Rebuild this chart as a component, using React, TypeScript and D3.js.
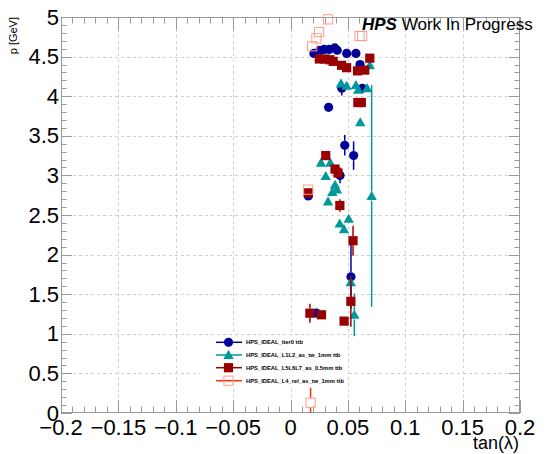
import React from "react";
import * as d3 from "d3";

const W = 556;
const H = 454;

const xTicks = [-0.2, -0.15, -0.1, -0.05, 0, 0.05, 0.1, 0.15, 0.2];
const xTickLabels = ["\u22120.2", "\u22120.15", "\u22120.1", "\u22120.05", "0", "0.05", "0.1", "0.15", "0.2"];
const yTicks = [0, 0.5, 1, 1.5, 2, 2.5, 3, 3.5, 4, 4.5, 5];
const yTickLabels = ["0", "0.5", "1", "1.5", "2", "2.5", "3", "3.5", "4", "4.5", "5"];

const seriesNames = [
  "HPS_IDEAL_iter0 ttb",
  "HPS_IDEAL_L1L2_as_tw_1mm ttb",
  "HPS_IDEAL_L5L6L7_as_0.5mm ttb",
  "HPS_IDEAL_L4_rel_as_tw_1mm ttb",
];

const iter0X = [0.0204, 0.0256, 0.0293, 0.0337, 0.0386, 0.0407, 0.049, 0.057, 0.0606, 0.0626, 0.0447, 0.0332, 0.0473, 0.055, 0.0432, 0.0155, 0.0527, 0.0227];
const iter0Y = [4.54, 4.58, 4.59, 4.59, 4.61, 4.58, 4.54, 4.54, 4.4, 4.1, 4.1, 3.86, 3.38, 3.25, 3.0, 2.74, 1.72, 1.26];
const iter0Err = [0.02, 0.02, 0.02, 0.02, 0.02, 0.02, 0.02, 0.02, 0.03, 0.03, 0.09, 0.03, 0.13, 0.18, 0.1, 0.03, 0.4, 0.05];

const l1l2X = [0.044, 0.0489, 0.057, 0.059, 0.0668, 0.0691, 0.0608, 0.0266, 0.0347, 0.0307, 0.0388, 0.0405, 0.0365, 0.0327, 0.0429, 0.0466, 0.0507, 0.0525, 0.0556, 0.0707];
const l1l2Y = [4.16, 4.13, 4.14, 4.08, 4.1, 4.39, 3.67, 3.16, 3.16, 2.99, 2.88, 2.82, 2.79, 2.67, 2.39, 2.32, 2.45, 1.65, 1.24, 2.74];
const l1l2Err = [0.03, 0.03, 0.03, 0.03, 0.03, 0.03, 0.03, 0.03, 0.03, 0.03, 0.03, 0.03, 0.03, 0.03, 0.05, 0.05, 0.05, 0.05, 0.27, 1.4];

const l5l6l7X = [0.0251, 0.03, 0.0343, 0.0372, 0.0445, 0.0489, 0.0584, 0.0647, 0.0691, 0.0587, 0.0617, 0.0307, 0.0388, 0.0414, 0.0155, 0.043, 0.0545, 0.0526, 0.0169, 0.027, 0.0467];
const l5l6l7Y = [4.47, 4.47, 4.46, 4.44, 4.39, 4.36, 4.32, 4.33, 4.48, 3.92, 3.92, 3.25, 3.08, 3.03, 2.78, 2.62, 2.175, 1.41, 1.26, 1.24, 1.16];
const l5l6l7Err = [0.03, 0.03, 0.03, 0.03, 0.03, 0.03, 0.03, 0.03, 0.03, 0.03, 0.03, 0.03, 0.03, 0.03, 0.03, 0.08, 0.19, 0.32, 0.12, 0.03, 0.03];

const l4relX = [0.0327, 0.0249, 0.0226, 0.0189, 0.0601, 0.0625, 0.0155, 0.0175];
const l4relY = [4.97, 4.81, 4.73, 4.63, 4.76, 4.76, 2.82, 0.13];
const l4relErr = [0.02, 0.02, 0.02, 0.02, 0.02, 0.02, 0.02, 0.19];

const L = 61, R = 520, T = 17, B = 413;
const x = d3.scaleLinear().domain([-0.2, 0.2]).range([L, R]);
const y = d3.scaleLinear().domain([0, 5]).range([B, T]);

const FONT = "'Liberation Sans', Arial, Helvetica, sans-serif";

type Shape = "circle" | "triangle" | "square" | "openSquare";
const styles: { shape: Shape; fill: string; line: string }[] = [
  { shape: "circle", fill: "#000099", line: "#000099" },
  { shape: "triangle", fill: "#009999", line: "#009999" },
  { shape: "square", fill: "#990000", line: "#990000" },
  { shape: "openSquare", fill: "#ff9a8a", line: "#ff3300" },
];

const data = [
  { xs: iter0X, ys: iter0Y, es: iter0Err },
  { xs: l1l2X, ys: l1l2Y, es: l1l2Err },
  { xs: l5l6l7X, ys: l5l6l7Y, es: l5l6l7Err },
  { xs: l4relX, ys: l4relY, es: l4relErr },
];

const HALF = 4.6;

function Marker({ shape, fill, cx, cy }: { shape: Shape; fill: string; cx: number; cy: number }) {
  if (shape === "circle") return <circle cx={cx} cy={cy} r={HALF} fill={fill} />;
  if (shape === "square")
    return <rect x={cx - HALF} y={cy - HALF} width={HALF * 2} height={HALF * 2} fill={fill} />;
  if (shape === "openSquare")
    return <rect x={cx - HALF} y={cy - HALF} width={HALF * 2} height={HALF * 2} fill="none" stroke={fill} strokeWidth={1} />;
  const s = 5.2;
  const tri = d3.path();
  tri.moveTo(cx, cy - s);
  tri.lineTo(cx + s, cy + s * 0.75);
  tri.lineTo(cx - s, cy + s * 0.75);
  tri.closePath();
  return <path d={tri.toString()} fill={fill} />;
}

export default function App() {
  const xMinor = d3.range(-0.2, 0.2001, 0.01);
  const yMinor = d3.range(0, 5.0001, 0.1);
  const legendY = [342.3, 355, 367.7, 380.7];

  return (
    <svg width={W} height={H} style={{ position: "absolute", left: 0, top: 0, background: "#fff" }}>
      <rect x={0} y={0} width={W} height={H} fill="#fff" />
      {/* grid */}
      <g stroke="#cfcfcf" strokeWidth={1} strokeDasharray="3,3">
        {xTicks.slice(1, -1).map((t) => (
          <line key={"gx" + t} x1={Math.round(x(t)) + 0.5} x2={Math.round(x(t)) + 0.5} y1={T} y2={B} />
        ))}
        {yTicks.slice(1, -1).map((t) => (
          <line key={"gy" + t} x1={L} x2={R} y1={Math.round(y(t)) + 0.5} y2={Math.round(y(t)) + 0.5} />
        ))}
      </g>
      {/* ticks */}
      <g stroke="#999" strokeWidth={1}>
        {xMinor.map((t, i) => {
          const major = i % 5 === 0;
          const len = major ? 13 : 6.5;
          const px = Math.round(x(t)) + 0.5;
          return (
            <g key={"xt" + i}>
              <line x1={px} x2={px} y1={B} y2={B - len} />
              <line x1={px} x2={px} y1={T} y2={T + len} />
            </g>
          );
        })}
        {yMinor.map((t, i) => {
          const major = i % 5 === 0;
          const len = major ? 11 : 5.5;
          const py = Math.round(y(t)) + 0.5;
          return (
            <g key={"yt" + i}>
              <line x1={L} x2={L + len} y1={py} y2={py} />
              <line x1={R} x2={R - len} y1={py} y2={py} />
            </g>
          );
        })}
        <rect x={L + 0.5} y={T + 0.5} width={R - L - 1} height={B - T - 1} fill="none" />
      </g>
      {/* HPS label */}
      <text x={362} y={30} fontFamily={FONT} fontSize={17} fill="#000">
        <tspan fontWeight="bold" fontStyle="italic">HPS</tspan>
        <tspan> Work In Progress</tspan>
      </text>
      {/* legend box */}
      <rect x={200} y={335} width={146} height={52} fill="#fff" />
      {/* data */}
      {data.map((s, si) => (
        <g key={"s" + si}>
          {s.xs.map((xv, i) => {
            const cx = x(xv);
            const cy = y(s.ys[i]);
            const top = Math.max(y(s.ys[i] + s.es[i]), T);
            const bot = Math.min(y(s.ys[i] - s.es[i]), B);
            return (
              <g key={i}>
                {cy - top > HALF && (
                  <line x1={cx} x2={cx} y1={top} y2={cy - HALF} stroke={styles[si].line} strokeWidth={1.5} />
                )}
                {bot - cy > HALF && (
                  <line x1={cx} x2={cx} y1={cy + HALF} y2={bot} stroke={styles[si].line} strokeWidth={1.5} />
                )}
              </g>
            );
          })}
          {s.xs.map((xv, i) => (
            <Marker key={"m" + i} shape={styles[si].shape} fill={styles[si].fill} cx={x(xv)} cy={y(s.ys[i])} />
          ))}
        </g>
      ))}
      {/* legend entries */}
      {seriesNames.map((name, i) => (
        <g key={"lg" + i}>
          <line x1={216} x2={242} y1={legendY[i]} y2={legendY[i]} stroke={styles[i].line} strokeWidth={1.5} />
          <Marker shape={styles[i].shape} fill={styles[i].fill} cx={228.5} cy={legendY[i]} />
          <text x={246} y={legendY[i]} dominantBaseline="central" fontFamily={FONT} fontWeight="bold" fontSize={5.8} fill="#000">
            {name}
          </text>
        </g>
      ))}
      {/* tick labels */}
      <g fontFamily={FONT} fontSize={22} fill="#000">
        {xTicks.map((t, i) => (
          <text key={"xl" + i} x={x(t)} y={435} textAnchor="middle">
            {xTickLabels[i]}
          </text>
        ))}
        {yTicks.map((t, i) => (
          <text key={"yl" + i} x={59} y={y(t)} textAnchor="end" dominantBaseline="central">
            {yTickLabels[i]}
          </text>
        ))}
      </g>
      <text x={519} y={449} textAnchor="end" fontFamily={FONT} fontSize={18} fill="#000">
        tan(λ)
      </text>
      <text
        transform={`translate(17,17) rotate(-90)`}
        textAnchor="end"
        fontFamily={FONT}
        fontSize={11}
        fill="#000"
      >
        p [GeV]
      </text>
    </svg>
  );
}
